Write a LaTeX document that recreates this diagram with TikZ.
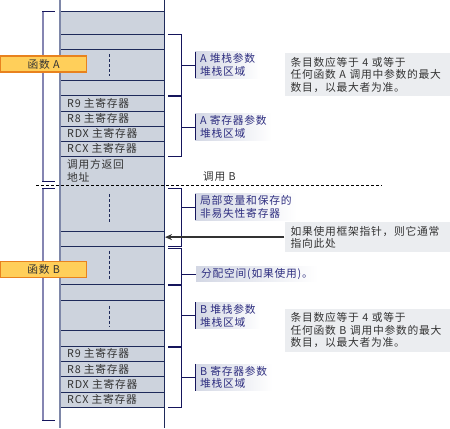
\documentclass[tikz,border=0pt]{standalone}
\usepackage{fontspec}
\setmainfont{Noto Sans CJK SC}[LetterSpace=7]
\usetikzlibrary{arrows.meta,positioning}
\definecolor{cellc}{HTML}{CDD3DD}
\definecolor{navyc}{HTML}{1E2A5A}
\definecolor{brkc}{HTML}{15155C}
\definecolor{softc}{HTML}{8585B2}
\definecolor{edgec}{HTML}{7E87A8}
\definecolor{lblt}{HTML}{2E2E80}
\definecolor{lblfill}{HTML}{D3D7E4}
\definecolor{notec}{HTML}{EBEDF0}
\definecolor{txtc}{HTML}{333333}
\definecolor{fyel}{HTML}{FFCF5A}
\definecolor{forg}{HTML}{E8821E}
\tikzset{
  base/.style={font=\fontsize{10.8}{12.5}\selectfont},
  cellline/.style={navyc, line width=0.8bp},
  celltxt/.style={base, anchor=west, inner sep=0pt, text=txtc, align=left},
  gap/.style={navyc, dashed, dash pattern=on 3bp off 2bp, line width=0.7bp},
  brk/.style={brkc, line width=1bp},
  fbrk/.style={softc, line width=1.6bp},
  lbl/.style={base, anchor=west, align=left, text=lblt, left color=lblfill, right color=white,
    inner xsep=5bp, inner ysep=2bp},
  lblbar/.style={brkc, line width=1bp},
  note/.style={base, anchor=north west, align=left, text=txtc, fill=notec, text width=153bp,
    inner xsep=6bp, inner ysep=4bp, minimum width=165bp},
  func/.style={base, fill=fyel, draw=forg, line width=1.2bp, minimum width=86bp,
    minimum height=16bp, inner sep=0pt, anchor=west, text=txtc},
  fparrow/.style={-{Stealth[length=7bp,width=6bp]}, txtc, line width=2bp},
}
% right bracket: top, bottom, middle, label node
\newcommand{\stackbrk}[4]{%
  \draw[brk] (168,#1) -| (181,#2) -- (168,#2);
  \draw[brk] (181,#3) -- (#4.west);}
% left bracket of a frame: top, bottom
\newcommand{\framebrk}[2]{%
  \draw[fbrk] (43,#1) -- (43,#2);
  \draw[brk] (42.2,#1) -- (55,#1);
  \draw[brk] (42.2,#2) -- (55,#2);}

\begin{document}
\begin{tikzpicture}[x=1bp, y=-1bp]
  \useasboundingbox (0,0) rectangle (450,428);
  % stack column
  \fill[cellc] (60,11.7) rectangle (164,407.7);
  \foreach \yy in {11.7,34.3,49.7,80.3,95.7,111.3,126.3,141.3,156.3,
                   231.7,246.7,284.3,300,330.3,346,361.3,376.7,392,407.7}
    \draw[cellline] (60,\yy) -- (164,\yy);
  \draw[edgec, line width=2bp] (60,0) -- (60,428);
  \draw[navyc, line width=0.9bp] (164,0) -- (164,428);
  \foreach \ya/\yb in {54/75.7, 194/221.7, 250.7/279, 305.7/326.7}
    \draw[gap] (109.3,\ya) -- (109.3,\yb);
  % cell texts
  \node[celltxt] (ar9)  at (67,103.5) {R9 主寄存器};
  \node[celltxt] (ar8)  at (67,118.8) {R8 主寄存器};
  \node[celltxt] (ardx) at (67,133.8) {RDX 主寄存器};
  \node[celltxt] (arcx) at (67,148.8) {RCX 主寄存器};
  \node[celltxt] (ret)  at (67,170.7) {调用方返回\\地址};
  \node[celltxt] (br9)  at (67,353.7) {R9 主寄存器};
  \node[celltxt] (br8)  at (67,369) {R8 主寄存器};
  \node[celltxt] (brdx) at (67,384.3) {RDX 主寄存器};
  \node[celltxt] (brcx) at (67,399.8) {RCX 主寄存器};
  % call boundary
  \draw[black, dashed, dash pattern=on 3bp off 2bp, line width=0.8bp] (36,185) -- (382,185);
  \node[celltxt] (callb) at (203,177) {调用 B};
  % frames
  \framebrk{11.7}{181}
  \framebrk{188.3}{420}
  \node[func] (funa) at (0,64) {函数 A};
  \node[func] (funb) at (0,269.5) {函数 B};
  % labels
  \node[lbl] (astk) at (195,65) {A 堆栈参数\\堆栈区域};
  \node[lbl] (areg) at (195,127) {A 寄存器参数\\堆栈区域};
  \node[lbl] (locv) at (195,207) {局部变量和保存的\\非易失性寄存器};
  \node[lbl] (allc) at (196,274) {分配空间(如果使用)。};
  \node[lbl] (bstk) at (195,315.7) {B 堆栈参数\\堆栈区域};
  \node[lbl] (breg) at (195,377.3) {B 寄存器参数\\堆栈区域};
  \foreach \q in {astk,areg,locv,bstk,breg}
    \draw[lblbar] (\q.north west) -- (\q.south west);
  \stackbrk{34.3}{95}{65}{astk}
  \stackbrk{96.7}{156.3}{127}{areg}
  \stackbrk{188.3}{246.7}{207}{locv}
  \stackbrk{248.7}{284.3}{274}{allc}
  \stackbrk{285.9}{346}{315.7}{bstk}
  \stackbrk{347.2}{407.7}{377.3}{breg}
  % notes
  \node[note] (anote) at (284.3,53) {条目数应等于 4 或等于\\任何函数 A 调用中参数的最大\\数目，以最大者为准。};
  \node[note] (fpnote) at (284.3,221.7) {如果使用框架指针，则它通常\\指向此处};
  \node[note] (bnote) at (284.3,308.3) {条目数应等于 4 或等于\\任何函数 B 调用中参数的最大\\数目，以最大者为准。};
  \coordinate (colr) at (165,0);
  \coordinate (fp) at (fpnote.west -| colr);
  \draw[fparrow] (fpnote.west) -- (fp);
\end{tikzpicture}
\end{document}
